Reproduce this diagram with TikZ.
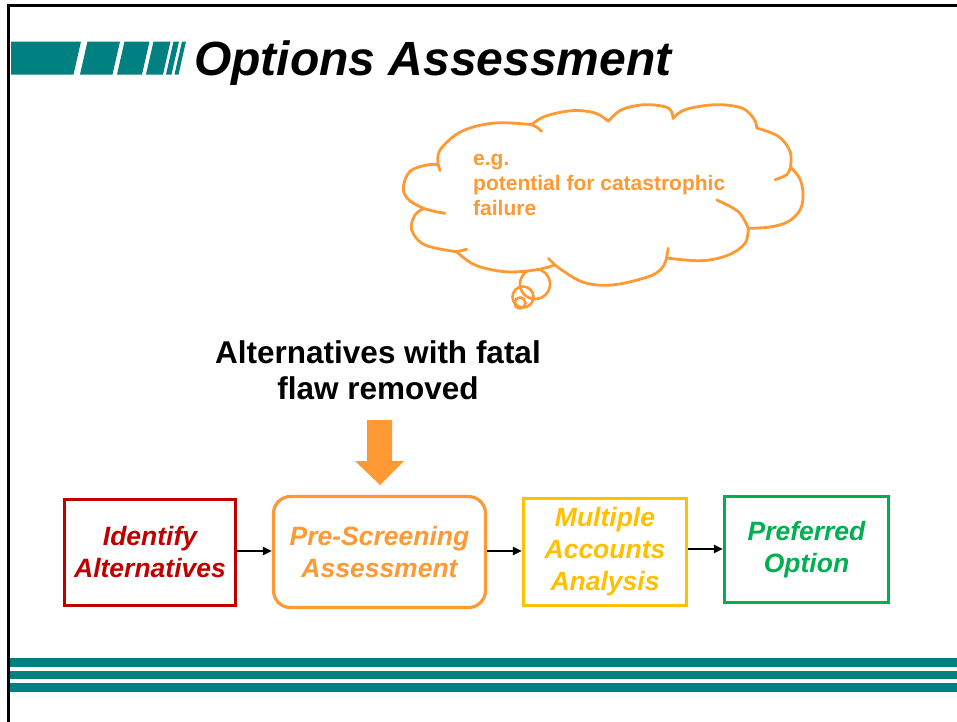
\documentclass[tikz,border=0pt]{standalone}
\usepackage{fontspec}
\setmainfont{Liberation Sans}
\usetikzlibrary{arrows.meta}
\definecolor{tealc}{HTML}{008080}
\definecolor{redc}{HTML}{C00000}
\definecolor{orangec}{HTML}{FF9933}
\definecolor{goldc}{HTML}{FFC000}
\definecolor{greenc}{HTML}{00B050}
\tikzset{
  boxtxt/.style={font=\fontsize{26.5}{32}\selectfont\bfseries\itshape, align=center, line width=3.2pt, inner sep=0pt},
  flowarr/.style={draw=black, line width=2.2pt, -{Triangle[length=9pt,width=8pt]}},
  thought/.style={circle, draw=orangec, line width=2.6pt, inner sep=0pt},
  cloudline/.style={draw=orangec, line width=2.8pt, line cap=round},
  puff/.style={smooth, tension=0.6},
}
\begin{document}
\begin{tikzpicture}[x=1pt,y=-1pt]
\useasboundingbox (0,0) rectangle (957,721);
\fill[white] (0,0) rectangle (957,721);
% frame
\draw[line width=2.7pt, line cap=rect] (8.5,721) -- (8.5,5.3) -- (957,5.3);
% title bars
\fill[tealc] (11,74.5) -- (73.5,74.5) -- (81,41.5) -- (11,41.5) -- cycle;
\fill[tealc] (80,74.5) -- (112.5,74.5) -- (120,41.5) -- (87.5,41.5) -- cycle;
\fill[tealc] (117,74.5) -- (142,74.5) -- (149.5,41.5) -- (124.5,41.5) -- cycle;
\fill[tealc] (146,74.5) -- (163,74.5) -- (170.5,41.5) -- (153.5,41.5) -- cycle;
\fill[tealc] (166,74.5) -- (171.5,74.5) -- (179,41.5) -- (173.5,41.5) -- cycle;
\fill[tealc] (174.5,74.5) -- (178.5,74.5) -- (186,41.5) -- (182,41.5) -- cycle;
\node[anchor=base west, inner sep=0pt, font=\fontsize{48}{58}\selectfont\bfseries\itshape] (title) at (194,75) {Options Assessment};
% bottom bars
\fill[tealc] (10,658) rectangle (957,666.5);
\fill[tealc] (10,670.5) rectangle (957,679);
\fill[tealc] (10,683) rectangle (957,691.5);
% thought bubble
\node[thought, minimum size=30pt] (t1) at (535,284) {};
\node[thought, minimum size=21pt] (t2) at (523,297) {};
\node[thought, minimum size=11pt] (t3) at (520,303) {};
% cloud outline
\coordinate (j1) at (424,208.5);
\coordinate (j2) at (438.3,165);
\coordinate (j3) at (531.7,124.7);
\coordinate (j4) at (608.3,121.3);
\coordinate (j5) at (673,118.5);
\coordinate (j6) at (756.7,128);
\coordinate (j7) at (790.5,167);
\coordinate (j8) at (748.3,228.3);
\coordinate (j9) at (666.5,258);
\coordinate (j10) at (555,265);
\coordinate (j11) at (456.7,251.7);
\path[cloudline, fill=white, line join=round]
  (j1) -- plot[puff] coordinates {(j1) (409,200) (403.3,188) (410,171.3) (428.3,164.7) (j2)}
  -- plot[puff] coordinates {(j2) (440,150) (461.7,131.3) (495,123) (j3)}
  -- plot[puff] coordinates {(j3) (545,116.3) (571.7,110.7) (595,113) (j4)}
  -- plot[puff] coordinates {(j4) (621.7,109.7) (645,104.7) (668.3,108) (j5)}
  -- plot[puff] coordinates {(j5) (685,109.7) (715,104.7) (741.7,108) (754,119) (j6)}
  -- plot[puff] coordinates {(j6) (778.3,136.3) (790,151.3) (j7)}
  -- plot[puff] coordinates {(j7) (800,179) (803,195) (800,210) (788,221.7) (770,227) (j8)}
  -- plot[puff] coordinates {(j8) (745,243.3) (728.3,255) (701.7,260.7) (j9)}
  -- plot[puff] coordinates {(j9) (662,268) (648.3,276.7) (611.7,285) (581.7,281.7) (j10)}
  -- plot[puff] coordinates {(j10) (535,270) (505,271.7) (475,265) (j11)}
  -- plot[puff] coordinates {(j11) (425,245) (411.7,230) (415,215) (j1)}
  -- cycle;
% inner tails of the cloud
\draw[cloudline] plot[puff] coordinates {(j1) (435,211.5) (445,213.3)};
\draw[cloudline] (j2) -- (440,170.5);
\draw[cloudline] plot[puff] coordinates {(j3) (536.5,127) (541.7,131.3)};
\draw[cloudline] plot[puff] coordinates {(j7) (786.7,174.7) (775,179.7)};
\draw[cloudline] plot[puff] coordinates {(716.7,200) (738.3,211.7) (j8)};
\draw[cloudline] (668.3,248.3) -- (j9);
\draw[cloudline] (j10) -- (548.3,258.3);
\draw[cloudline] (j11) -- (466.7,249.3);
\node[anchor=west, align=left, inner sep=0pt, text=orangec, font=\fontsize{21}{25}\selectfont\bfseries] (cloudtxt) at (473,185) {e.g.\\potential for catastrophic\\failure};
% heading text and arrow
\node[align=center, inner sep=0pt, font=\fontsize{31.5}{36}\selectfont\bfseries] (flaw) at (378,370) {Alternatives with fatal\\flaw removed};
\fill[orangec] (367,420) -- (392,420) -- (392,461) -- (404,461) -- (380,485) -- (355,461) -- (367,461) -- cycle;
% boxes
\node[boxtxt, draw=redc, text=redc, minimum width=171pt, minimum height=106pt] (b1) at (150,552.5) {Identify\\Alternatives};
\node[boxtxt, draw=orangec, text=orangec, rounded corners=17pt, minimum width=212pt, minimum height=111pt] (b2) at (379.5,552) {Pre-Screening\\Assessment};
\node[boxtxt, draw=goldc, text=goldc, minimum width=163pt, minimum height=107pt] (b3) at (605,552) {Multiple\\Accounts\\Analysis};
\node[boxtxt, draw=greenc, text=greenc, minimum width=164pt, minimum height=106pt] (b4) at (806.5,549.5) {Preferred\\Option};
\draw[flowarr] (b1.east |- 0,551) -- (b2.west |- 0,551);
\draw[flowarr] (b2.east |- 0,551) -- (b3.west |- 0,551);
\draw[flowarr] (b3.east |- 0,549) -- (b4.west |- 0,549);
\end{tikzpicture}
\end{document}
